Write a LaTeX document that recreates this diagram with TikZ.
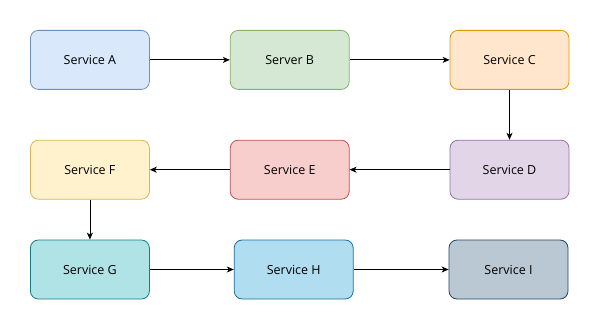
\documentclass[tikz,border=0pt]{standalone}
\usepackage{fontspec}
\setmainfont{Open Sans}
\usepackage{tikz}
\usetikzlibrary{arrows.meta, positioning}
\definecolor{bluefill}{HTML}{DAE8FC}   \definecolor{bluedraw}{HTML}{6C8EBF}
\definecolor{greenfill}{HTML}{D5E8D4}  \definecolor{greendraw}{HTML}{82B366}
\definecolor{orangefill}{HTML}{FFE6CC} \definecolor{orangedraw}{HTML}{D79B00}
\definecolor{purplefill}{HTML}{E1D5E7} \definecolor{purpledraw}{HTML}{9673A6}
\definecolor{redfill}{HTML}{F8CECC}    \definecolor{reddraw}{HTML}{B85450}
\definecolor{yellowfill}{HTML}{FFF2CC} \definecolor{yellowdraw}{HTML}{D6B656}
\definecolor{tealfill}{HTML}{B0E3E6}   \definecolor{tealdraw}{HTML}{0E8088}
\definecolor{skyfill}{HTML}{B1DDF0}    \definecolor{skydraw}{HTML}{10739E}
\definecolor{slatefill}{HTML}{BAC8D3}  \definecolor{slatedraw}{HTML}{23445D}
\tikzset{
  svc/.style={
    rectangle, rounded corners=8pt, minimum width=119pt,
    minimum height=59pt, text centered, draw, line width=0.8pt,
    font=\fontsize{12.5}{15}\selectfont
  },
  svcblue/.style={svc, fill=bluefill, draw=bluedraw},
  svcgreen/.style={svc, fill=greenfill, draw=greendraw},
  svcorange/.style={svc, fill=orangefill, draw=orangedraw},
  svcpurple/.style={svc, fill=purplefill, draw=purpledraw},
  svcred/.style={svc, fill=redfill, draw=reddraw},
  svcyellow/.style={svc, fill=yellowfill, draw=yellowdraw},
  svcteal/.style={svc, fill=tealfill, draw=tealdraw},
  svcsky/.style={svc, fill=skyfill, draw=skydraw},
  svcslate/.style={svc, fill=slatefill, draw=slatedraw},
  arr/.style={-{Stealth[length=7pt, width=6pt, inset=2pt]}, line width=0.8pt}
}
\begin{document}
\begin{tikzpicture}[node distance=50pt and 80pt]
  \useasboundingbox (0,0) rectangle (601pt,-331pt);

  %% first row
  \node[svcblue, anchor=north west] (sa) at (30pt,-30pt) {Service A};
  \node[svcgreen, right=of sa]  (sb) {Server B};
  \node[svcorange, right=100pt of sb] (sc) {Service C};

  %% second row
  \node[svcpurple, below=of sc]    (sd) {Service D};
  \node[svcred, left=100pt of sd]  (se) {Service E};
  \node[svcyellow, left=of se]     (sf) {Service F};

  %% third row
  \node[svcteal, below=40pt of sf]  (sg) {Service G};
  \node[svcsky, right=84pt of sg]   (sh) {Service H};
  \node[svcslate, right=95pt of sh] (si) {Service I};

  \foreach \a/\b in {sa/sb, sb/sc, sc/sd, sd/se, se/sf, sf/sg, sg/sh, sh/si}
    \draw[arr] (\a) -- (\b);

\end{tikzpicture}
\end{document}
